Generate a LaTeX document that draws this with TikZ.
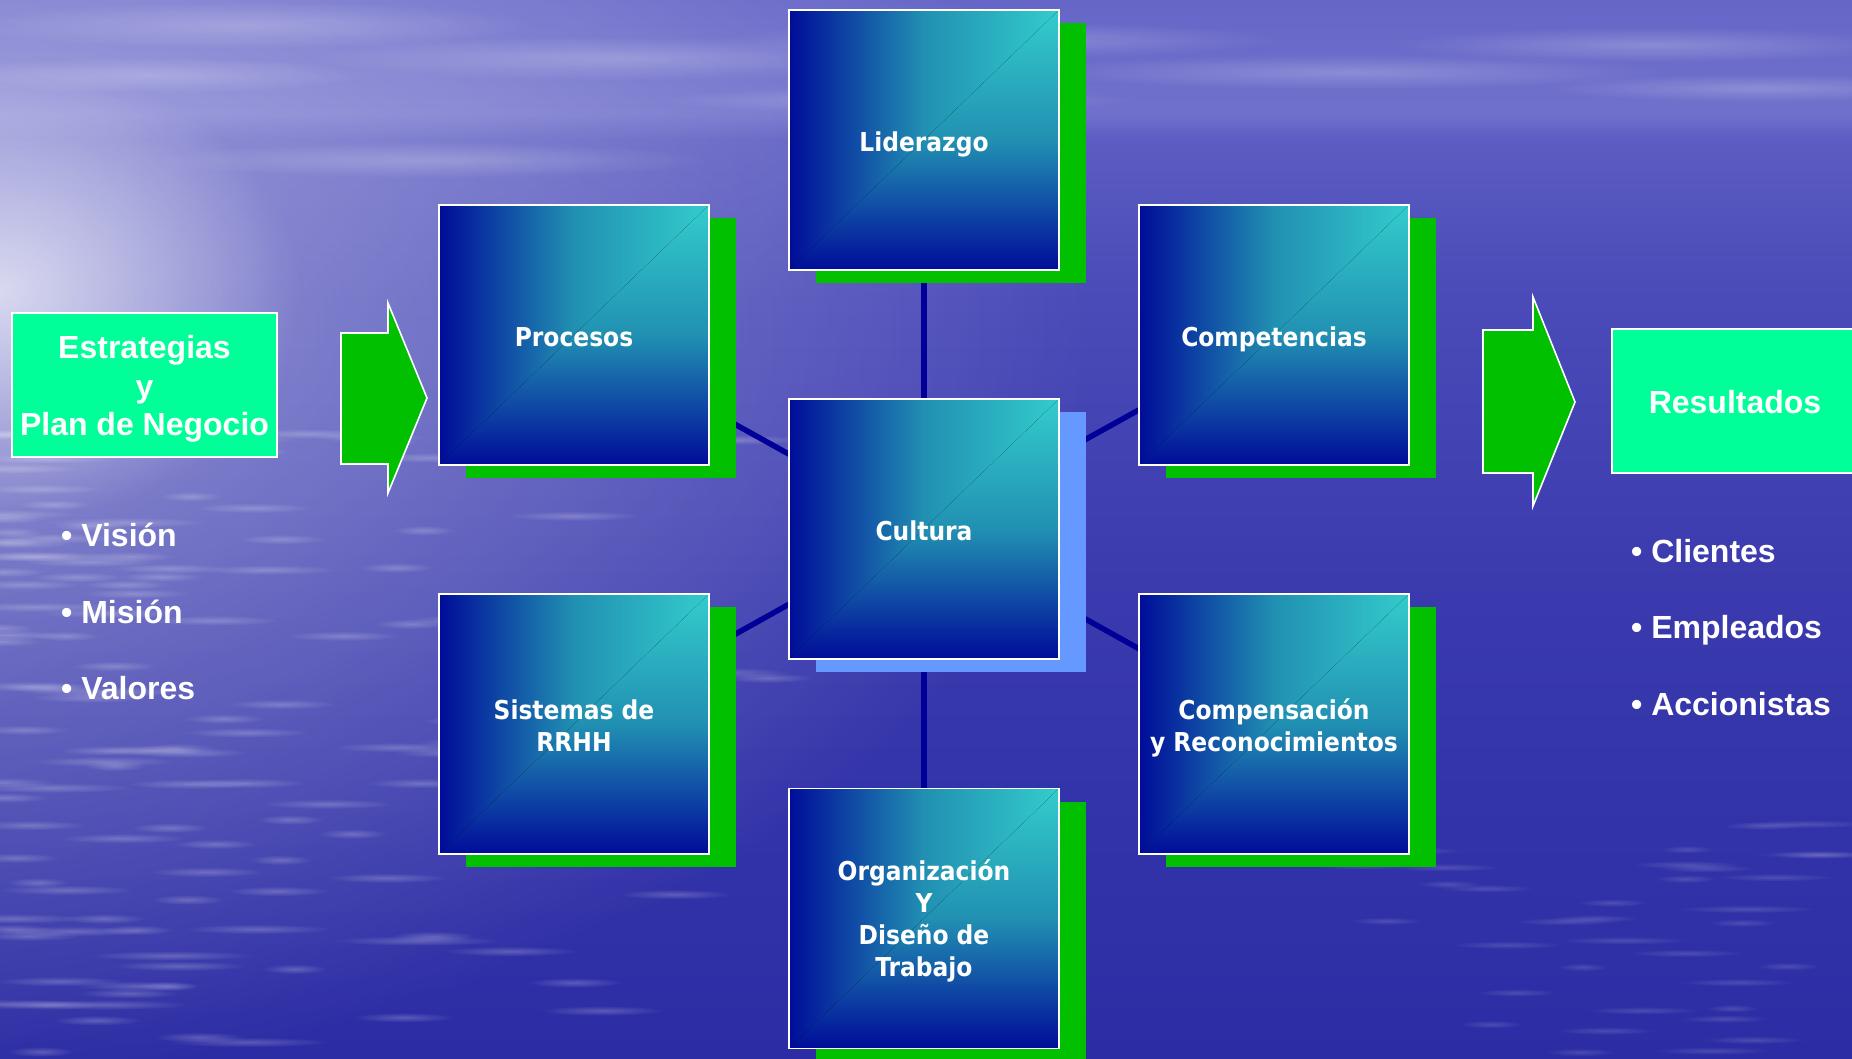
\documentclass[tikz,border=0pt]{standalone}
\usepackage{fontspec}
\setmainfont{Liberation Sans}
\newfontfamily\boxfont{DejaVu Sans Condensed}[BoldFont={DejaVu Sans Condensed Bold}]
\usetikzlibrary{fadings}
\definecolor{cNavy}{HTML}{000C99}
\definecolor{cCyan}{HTML}{33CCCC}
\definecolor{cMid}{HTML}{2190B2}
\definecolor{cSpring}{HTML}{00FF99}
\definecolor{cGreen}{HTML}{00C000}
\definecolor{cLight}{HTML}{6699FF}
\definecolor{cLine}{HTML}{000099}
\definecolor{bgA}{HTML}{6666C8}
\definecolor{bgB}{HTML}{7070CC}
\definecolor{bgC}{HTML}{5C5CC2}
\definecolor{bgD}{HTML}{4A4AB8}
\definecolor{bgE}{HTML}{3A3AAE}
\definecolor{bgF}{HTML}{2C2CA4}
\pgfdeclareverticalshading{seasky}{100bp}{color(0bp)=(bgF); color(25bp)=(bgF); color(46.6bp)=(bgE); color(60.8bp)=(bgD); color(68.4bp)=(bgC); color(69.6bp)=(bgB); color(75bp)=(bgA); color(100bp)=(bgA)}
\tikzfading[name=radfade, inner color=transparent!0, outer color=transparent!100]
\tikzfading[name=bandfade, top color=transparent!100, middle color=transparent!0, bottom color=transparent!100]
\pgfdeclarelayer{bg}
\pgfdeclarelayer{under}
\pgfsetlayers{bg,under,main}
\begin{document}
\begin{tikzpicture}[x=1pt,y=-1pt,
  sq/.style={rectangle, minimum width=270pt, minimum height=260pt, inner sep=0pt, outer sep=0pt,
    draw=white, line width=1.6pt, text=white, align=center,
    font=\boxfont\bfseries\fontsize{26}{32}\selectfont,
    execute at begin node={\rule{0pt}{29pt}},
    execute at end node={\rule[-7pt]{0pt}{7pt}},
    path picture={
      \fill[left color=cNavy, right color=cCyan, middle color=cMid]
        (path picture bounding box.south west) rectangle (path picture bounding box.north east);
      \fill[top color=cCyan, bottom color=cNavy, middle color=cMid]
        (path picture bounding box.north east) -- (path picture bounding box.south east)
        -- (path picture bounding box.south west) -- cycle;
    }},
  ml/.style={execute at begin node={\rule{0pt}{#1}}},
  gbox/.style={rectangle, fill=cSpring, draw=white, line width=1.6pt, inner sep=0pt, outer sep=0pt},
  ttl/.style={text=white, font=\bfseries\fontsize{32}{38.5}\selectfont, align=center, inner sep=0pt},
  bul/.style={text=white, font=\bfseries\fontsize{32}{38.5}\selectfont, inner sep=0pt, anchor=base west},
  conn/.style={draw=cLine, line width=5.5pt},
  barrow/.style={fill=cGreen, draw=white, line width=1.6pt, line join=miter}
]
\useasboundingbox (0,0) rectangle (1852,1058);

% ---------- background ----------
\begin{pgfonlayer}{bg}
\shade[shading=seasky] (0,0) rectangle (1852,1058);
\fill[white, path fading=radfade, fill opacity=0.45] (-150,330) ellipse [x radius=1250, y radius=760];
\fill[white, path fading=radfade, fill opacity=0.65] (0,290) ellipse [x radius=300, y radius=230];
\fill[white, path fading=bandfade, fill opacity=0.4] (0,88) rectangle (1852,142);
\foreach \cx/\cy/\ca/\cb in {250/25/280/24, 620/58/320/22, 150/75/220/18, 1000/40/280/18,
  1350/72/320/18, 1650/45/260/18, 1760/88/220/14, 430/160/280/18, 900/100/240/14}{
  \fill[white, path fading=radfade, fill opacity=0.22] (\cx,\cy) ellipse [x radius=\ca, y radius=\cb];
}
\pgfmathsetseed{11}
\foreach \i in {1,...,130}{
  \pgfmathsetmacro{\rx}{900*rnd*rnd}
  \pgfmathsetmacro{\ry}{430+628*rnd}
  \pgfmathsetmacro{\rw}{30+55*rnd}
  \fill[white, path fading=radfade, fill opacity=0.22] (\rx,\ry) ellipse [x radius=\rw, y radius=5];
}
\foreach \i in {1,...,35}{
  \pgfmathsetmacro{\rx}{1350+500*rnd}
  \pgfmathsetmacro{\ry}{820+238*rnd}
  \pgfmathsetmacro{\rw}{25+45*rnd}
  \fill[white, path fading=radfade, fill opacity=0.15] (\rx,\ry) ellipse [x radius=\rw, y radius=4];
}
\end{pgfonlayer}

% ---------- central boxes ----------
\node[sq] (lid) at (924,140) {Liderazgo};
\node[sq] (proc) at (574,335) {Procesos};
\node[sq] (compe) at (1274,335) {Competencias};
\node[sq] (cult) at (924,529) {Cultura};
\node[sq, ml=61pt] (sis) at (574,724) {Sistemas de\\RRHH};
\node[sq, ml=61pt] (comp) at (1274,724) {Compensación\\y Reconocimientos};
\node[sq, ml=122pt] (org) at (924,918.5) {Organización\\Y\\Diseño de\\Trabajo};

\begin{pgfonlayer}{under}
\draw[conn] (lid.center) -- (cult.center) -- (org.center);
\draw[conn] (proc.center) -- (cult.center) -- (comp.center);
\draw[conn] (compe.center) -- (cult.center) -- (sis.center);
\foreach \n in {lid,proc,compe,sis,comp,org}{
  \fill[cGreen] ([shift={(27,13)}]\n.north west) rectangle ([shift={(27,13)}]\n.south east);
}
\fill[cLight] ([shift={(27,13)}]cult.north west) rectangle ([shift={(27,13)}]cult.south east);
\end{pgfonlayer}

% ---------- left side ----------
\node[gbox, minimum width=265pt, minimum height=144pt] (estr) at (144.5,385) {};
\node[ttl] (estrT) at (144.5,389) {Estrategias\\y\\Plan de Negocio};
\draw[barrow] (341,333) -- (388,333) -- (388,303) -- (427,398) -- (388,493) -- (388,464) -- (341,464) -- cycle;
\node[bul] (v1) at (61,546) {• Visión};
\node[bul] (v2) at (61,623) {• Misión};
\node[bul] (v3) at (61,699) {• Valores};

% ---------- right side ----------
\draw[barrow] (1483,330) -- (1533,330) -- (1533,297) -- (1575,402) -- (1533,506) -- (1533,473) -- (1483,473) -- cycle;
\node[gbox, minimum width=260pt, minimum height=144pt] (res) at (1742,401) {};
\node[ttl, anchor=base] (resT) at (1735,413) {Resultados};
\node[bul] (r1) at (1631,562) {• Clientes};
\node[bul] (r2) at (1631,638) {• Empleados};
\node[bul] (r3) at (1631,715) {• Accionistas};
\end{tikzpicture}
\end{document}
